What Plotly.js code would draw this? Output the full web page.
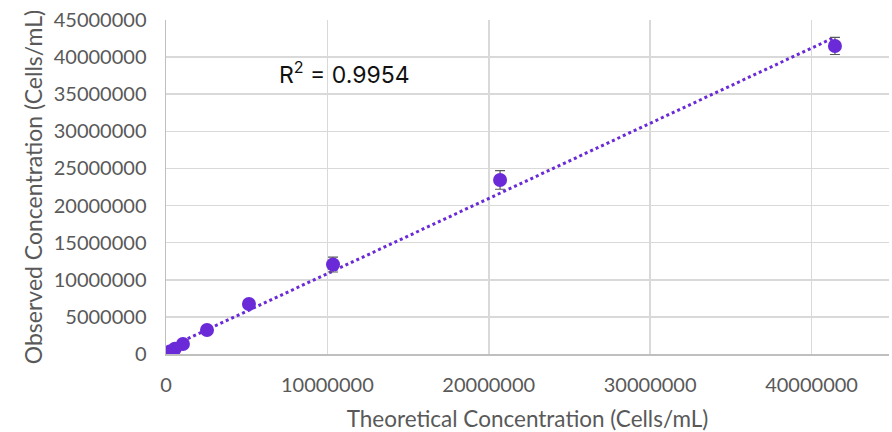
<!DOCTYPE html>
<html>
<head>
<meta charset="utf-8">
<script src="https://cdn.plot.ly/plotly-3.0.1.min.js"></script>
<style>html,body{margin:0;padding:0;background:#fff;}#chart{width:892px;height:432px;}</style>
</head>
<body>
<div id="chart"></div>
<script>
const theoretical = [41450000, 20700000, 10350000, 5140000, 2540000, 1050000, 550000, 250000, 80000];
const observed    = [41500000, 23450000, 12050000, 6740000, 3230000, 1350000, 700000, 350000, 100000];
const errorSD     = [1150000, 1250000, 1000000, 0, 0, 0, 0, 0, 0];
const xTicks = [0, 10000000, 20000000, 30000000, 40000000];
const yTicks = [0, 5000000, 10000000, 15000000, 20000000, 25000000, 30000000, 35000000, 40000000, 45000000];
const r2Label = 'R<sup>2</sup> = 0.9954';

// least-squares trendline from the data
const n = theoretical.length;
const mx = theoretical.reduce((a,b)=>a+b,0)/n;
const my = observed.reduce((a,b)=>a+b,0)/n;
let sxy=0, sxx=0;
for (let i=0;i<n;i++){ sxy += (theoretical[i]-mx)*(observed[i]-my); sxx += (theoretical[i]-mx)**2; }
const slope = sxy/sxx, icpt = my - slope*mx;
const tx = [0, Math.max(...theoretical)];
const ty = tx.map(v => icpt + slope*v);

const purple = '#6a2ad8';
const traces = [
  {x: tx, y: ty, mode:'lines', line:{color:purple, width:3, dash:'dot'}, hoverinfo:'skip'},
  {x: theoretical, y: observed, mode:'markers', marker:{color:purple, size:14},
   error_y:{type:'data', array:errorSD, visible:true, color:'#595959', thickness:1.2, width:5}}
];
const fam = 'Lato, "Open Sans", sans-serif';
const tickFont = {family:fam, size:20, color:'#595959'};
const layout = {
  width:892, height:432,
  margin:{l:166, r:3, t:20, b:78},
  paper_bgcolor:'#fff', plot_bgcolor:'#fff',
  showlegend:false,
  xaxis:{range:[0, 44800000], tickvals:xTicks, ticktext:xTicks.map(String),
    showgrid:true, gridcolor:'#d9d9d9', gridwidth:1.5, zeroline:false,
    showline:true, linecolor:'#bfbfbf', linewidth:1.5,
    ticks:'', ticklabelstandoff:12, tickfont:tickFont,
    title:{text:'Theoretical Concentration (Cells/mL)', font:{family:fam, size:22.5, color:'#595959'}, standoff:17}},
  yaxis:{range:[0, 45000000], tickvals:yTicks, ticktext:yTicks.map(String),
    showgrid:true, gridcolor:'#d9d9d9', gridwidth:1.5, zeroline:false,
    showline:true, linecolor:'#bfbfbf', linewidth:1.5,
    ticks:'', ticklabelstandoff:14, tickfont:tickFont,
    title:{text:'Observed Concentration (Cells/mL)', font:{family:fam, size:23, color:'#595959'}, standoff:4}},
  annotations:[{x:6900000, y:37800000, xref:'x', yref:'y', xanchor:'left', yanchor:'middle',
    text:r2Label, showarrow:false, font:{family:'Inter, "Liberation Sans", sans-serif', size:23, color:'#111'}}]
};
Plotly.newPlot('chart', traces, layout, {displayModeBar:false, staticPlot:true});
</script>
</body>
</html>
